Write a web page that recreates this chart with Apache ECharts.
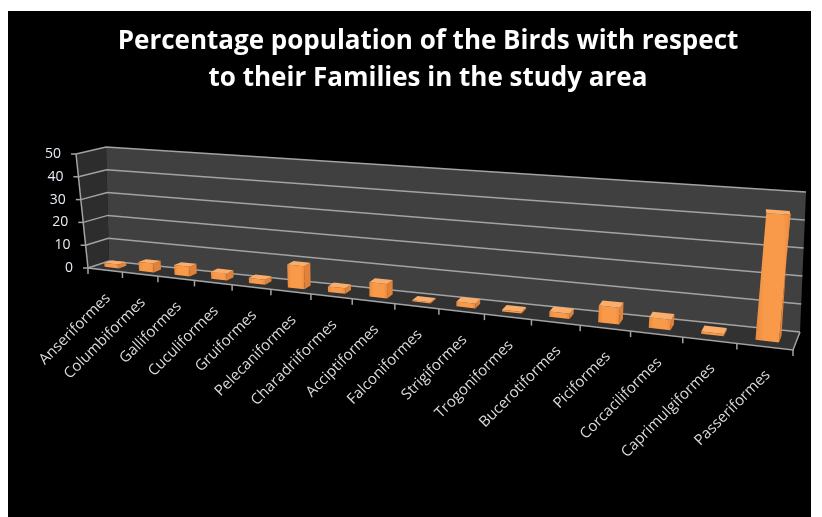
<!DOCTYPE html>
<html><head><meta charset="utf-8">
<script src="https://cdn.jsdelivr.net/npm/echarts@6/dist/echarts.min.js"></script>
<style>
html,body{margin:0;padding:0;background:#fff;}
#bg{position:absolute;left:8px;top:11px;width:803px;height:506px;background:#000;}
#chart{position:absolute;left:0;top:0;width:822px;height:517px;}
</style></head><body>
<div id="bg"></div><div id="chart"></div>
<script>
// ---- data ----
const categories = ['Anseriformes','Columbiformes','Galliformes','Cuculiformes','Gruiformes','Pelecaniformes','Charadriiformes','Acciptiformes','Falconiformes','Strigiformes','Trogoniformes','Bucerotiformes','Piciformes','Corcaciliformes','Caprimulgiformes','Passeriformes'];
const values = [1.7, 3.8, 4.1, 3.0, 2.1, 9.3, 2.2, 5.7, 0.4, 1.8, 0.6, 1.9, 6.1, 3.8, 0.8, 44.1];
const yTicks = [0, 10, 20, 30, 40, 50];
const titleLines = ['Percentage population of the Birds with respect', 'to their Families in the study area'];

// ---- perspective layout (screen geometry of the 3D box) ----
const P = {r:-0.2292, FX0:88, FX1:793, FY0:268, FY1:350, BX0:109, BX1:800, BY0:261, BY1:332,
           kB1:1.228, tF0:-0.105, tF1:0.12, tB0:-0.026, tB1:0.043};
function proj(t, d, h){
  const G = t*(1+P.r)/(1+P.r*t);
  const fx = P.FX0+(P.FX1-P.FX0)*G, fy = P.FY0+(P.FY1-P.FY0)*G;
  const bx = P.BX0+(P.BX1-P.BX0)*G, by = P.BY0+(P.BY1-P.BY0)*G;
  const x = fx+(bx-fx)*d, y = fy+(by-fy)*d;
  const kF = 1/(1+P.r*t);
  const kB = 1+(P.kB1-1)*G;
  const H = h*(kF+(kB-kF)*d);
  const tilt = (P.tF0+(P.tF1-P.tF0)*G)*(1-d) + (P.tB0+(P.tB1-P.tB0)*G)*d;
  return [x+tilt*H, y-H];
}
const GRID = {left:88, top:154, width:705, height:114};
const lineCol = '#a3a3a3';
const frontFill = new echarts.graphic.LinearGradient(0,0,1,0,[
  {offset:0, color:'#e8893c'},{offset:0.25, color:'#f99a4b'},{offset:0.8, color:'#f99a4b'},{offset:1, color:'#e8893c'}]);

const chart = echarts.init(document.getElementById('chart'), null, {renderer:'canvas'});
chart.setOption({
  backgroundColor:'transparent',
  animation:false,
  title:{
    text: titleLines.join('\n'), left:428, top:23, padding:0, textAlign:'center',
    textStyle:{color:'#ffffff', fontFamily:'Open Sans', fontWeight:'bold', fontSize:26, lineHeight:37}
  },
  grid: GRID,
  xAxis:{type:'category', data:categories, show:false},
  yAxis:{type:'value', min:0, max:50, interval:10, show:false},
  series:[
    { // walls and floor
      type:'custom', z:1, silent:true,
      data:[[0, yTicks[yTicks.length-1]]],
      renderItem(params, api){
        const cs = params.coordSys;
        const hMax = cs.y+cs.height-api.coord([0, api.value(1)])[1];
        return {type:'group', children:[
          {type:'polygon', shape:{points:[proj(0,0,0),proj(0,1,0),proj(0,1,hMax),proj(0,0,hMax)]}, style:{fill:'#2d2d2d'}},
          {type:'polygon', shape:{points:[proj(0,1,0),proj(1,1,0),proj(1,1,hMax),proj(0,1,hMax)]}, style:{fill:'#404040'}},
          {type:'polygon', shape:{points:[proj(0,0,0),proj(1,0,0),proj(1,1,0),proj(0,1,0)]}, style:{fill:'#323232'}},
          {type:'polyline', shape:{points:[proj(0,0,hMax),proj(0,0,0),proj(1,0,0),proj(1,1,0)]}, style:{stroke:lineCol, lineWidth:1.5, fill:null}}
        ]};
      }
    },
    { // gridlines + y ticks + labels
      type:'custom', z:2, silent:true,
      data: yTicks.map(v=>[0, v]),
      renderItem(params, api){
        const cs = params.coordSys;
        const v = api.value(1);
        const h = cs.y+cs.height-api.coord([0, v])[1];
        const a = proj(0,0,h), b = proj(0,1,h), c = proj(1,1,h);
        return {type:'group', children:[
          {type:'polyline', shape:{points:[a,b,c]}, style:{stroke:lineCol, lineWidth:1.5, fill:null}},
          {type:'line', shape:{x1:a[0]-5, y1:a[1], x2:a[0], y2:a[1]}, style:{stroke:lineCol, lineWidth:1.5}},
          {type:'text', x:a[0]-15, y:a[1], style:{text:String(v), align:'right', verticalAlign:'middle', fill:'#e8eef6', fontSize:14, fontFamily:'Open Sans'}}
        ]};
      }
    },
    { // bars, category ticks and labels
      type:'custom', z:3, silent:true,
      data: values.map((v,i)=>[i, v]),
      renderItem(params, api){
        const cs = params.coordSys;
        const i = api.value(0), v = api.value(1);
        const c = api.coord([i, v]), base = api.coord([i, 0]);
        const band = api.size([1, 0])[0];
        const tc = (c[0]-cs.x)/cs.width, hw = 0.21*band/cs.width;
        const t0 = tc-hw, t1 = tc+hw, d0 = 0.32, d1 = 0.68;
        const h = base[1]-c[1];
        const front = [proj(t0,d0,0),proj(t1,d0,0),proj(t1,d0,h),proj(t0,d0,h)];
        const top = [proj(t0,d0,h),proj(t1,d0,h),proj(t1,d1,h),proj(t0,d1,h)];
        const side = [proj(t1,d0,0),proj(t1,d1,0),proj(t1,d1,h),proj(t1,d0,h)];
        const children = [];
        const tl = (c[0]-band/2-cs.x)/cs.width;
        const pl = proj(tl,0,0);
        children.push({type:'line', shape:{x1:pl[0],y1:pl[1],x2:pl[0],y2:pl[1]+6}, style:{stroke:lineCol, lineWidth:1.5}});
        if (i === categories.length-1){
          const pr = proj((c[0]+band/2-cs.x)/cs.width,0,0);
          children.push({type:'line', shape:{x1:pr[0],y1:pr[1],x2:pr[0],y2:pr[1]+6}, style:{stroke:lineCol, lineWidth:1.5}});
        }
        children.push({type:'polygon', shape:{points:side}, style:{fill:'#e0823a'}});
        children.push({type:'polygon', shape:{points:front}, style:{fill:frontFill}});
        children.push({type:'polygon', shape:{points:top}, style:{fill:'#fbae6c'}});
        const pc = proj(tc,0,0);
        children.push({type:'text', x:pc[0]+3, y:pc[1]+26, rotation:Math.PI/4,
          style:{text:categories[params.dataIndex], align:'right', verticalAlign:'middle', fill:'#dcdcdc', fontSize:15, fontFamily:'Open Sans'}});
        return {type:'group', children};
      }
    }
  ]
});
</script>
</body></html>
